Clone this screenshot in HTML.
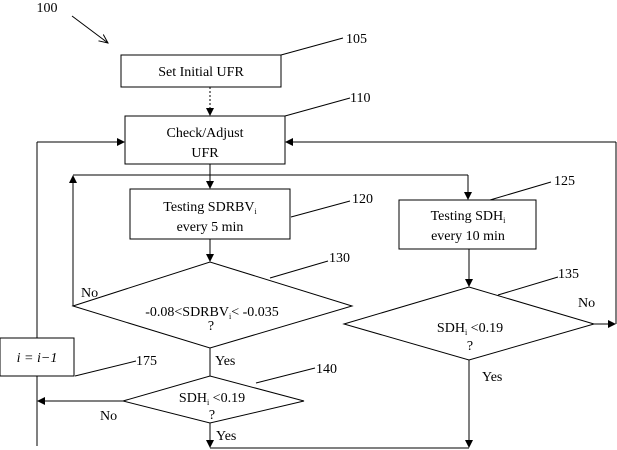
<!DOCTYPE html>
<html><head><style>body{margin:0;background:#fff}svg{display:block}text{font-family:"Liberation Serif",serif;font-size:14px;fill:#000}</style></head><body>
<svg width="617" height="450" viewBox="0 0 617 450" xmlns="http://www.w3.org/2000/svg">
<defs><marker id="a" markerWidth="8" markerHeight="8" refX="7" refY="4" orient="auto" markerUnits="userSpaceOnUse"><path d="M0,0 L8,4 L0,8 z" fill="#000"/></marker>
<marker id="o" markerWidth="10" markerHeight="10" refX="9" refY="5" orient="auto" markerUnits="userSpaceOnUse"><path d="M0,1 L9,5 L0,9" fill="none" stroke="#000"/></marker></defs>
<g stroke="#000" stroke-width="1" fill="none">
<line x1="72" y1="16" x2="108" y2="43" marker-end="url(#o)"/>
<rect x="121" y="55" width="160" height="32"/>
<line x1="210" y1="87" x2="210" y2="115" stroke-dasharray="2,2" marker-end="url(#a)"/>
<rect x="125" y="116" width="160" height="48"/>
<line x1="210" y1="164" x2="210" y2="188" marker-end="url(#a)"/>
<rect x="130" y="189" width="160" height="50"/>
<line x1="73" y1="175" x2="468" y2="175"/>
<line x1="468" y1="175" x2="468" y2="199" marker-end="url(#a)"/>
<line x1="73" y1="306" x2="73" y2="176" marker-end="url(#a)"/>
<rect x="399" y="200" width="137" height="49"/>
<line x1="210" y1="239" x2="210" y2="261" marker-end="url(#a)"/>
<polygon points="73,306 210,262 352,306 210,348"/>
<line x1="469" y1="249" x2="469" y2="286" marker-end="url(#a)"/>
<polygon points="344,324 469,287 594,324 469,360"/>
<line x1="594" y1="324" x2="615" y2="324" marker-end="url(#a)"/>
<line x1="616" y1="142" x2="616" y2="324"/>
<line x1="616" y1="142" x2="286" y2="142" marker-end="url(#a)"/>
<line x1="37" y1="142" x2="124" y2="142" marker-end="url(#a)"/>
<line x1="37" y1="142" x2="37" y2="338"/>
<rect x="0" y="338" width="74" height="38"/>
<line x1="37" y1="376" x2="37" y2="446"/>
<line x1="210" y1="348" x2="210" y2="376"/>
<polygon points="123,401 210,376 304,401 210,423"/>
<line x1="123" y1="401" x2="38" y2="401" marker-end="url(#a)"/>
<line x1="210" y1="423" x2="210" y2="447" marker-end="url(#a)"/>
<line x1="210" y1="448" x2="469" y2="448"/>
<line x1="469" y1="360" x2="469" y2="447" marker-end="url(#a)"/>
<line x1="281" y1="55" x2="343" y2="38"/>
<line x1="285" y1="116" x2="350" y2="98"/>
<line x1="291" y1="217" x2="350" y2="201"/>
<line x1="490" y1="200" x2="551" y2="182"/>
<line x1="270" y1="278" x2="328" y2="261"/>
<line x1="498" y1="295" x2="558" y2="277"/>
<line x1="75" y1="376" x2="136" y2="361"/>
<line x1="256" y1="383" x2="315" y2="368"/>
</g>
<text x="47" y="12" text-anchor="middle">100</text>
<text x="346" y="43">105</text>
<text x="350" y="102">110</text>
<text x="352" y="203">120</text>
<text x="554" y="185">125</text>
<text x="329" y="262">130</text>
<text x="558" y="278">135</text>
<text x="136" y="365">175</text>
<text x="316" y="373">140</text>
<text x="201" y="76" text-anchor="middle">Set Initial UFR</text>
<text x="205" y="137" text-anchor="middle">Check/Adjust</text>
<text x="205" y="157" text-anchor="middle">UFR</text>
<text x="210" y="211" text-anchor="middle">Testing SDRBV<tspan font-size="8" dy="3">i</tspan></text>
<text x="210" y="231" text-anchor="middle">every 5 min</text>
<text x="468" y="220" text-anchor="middle">Testing SDH<tspan font-size="8" dy="3">i</tspan></text>
<text x="468" y="240" text-anchor="middle">every 10 min</text>
<text x="212" y="316" text-anchor="middle">-0.08&lt;SDRBV<tspan font-size="8" dy="3">i</tspan><tspan dy="-3">&lt; -0.035</tspan></text>
<text x="211" y="330" text-anchor="middle">?</text>
<text x="470" y="332" text-anchor="middle">SDH<tspan font-size="8" dy="3">i</tspan><tspan dy="-3"> &lt;0.19</tspan></text>
<text x="470" y="350" text-anchor="middle">?</text>
<text x="212" y="402" text-anchor="middle">SDH<tspan font-size="8" dy="3">i</tspan><tspan dy="-3"> &lt;0.19</tspan></text>
<text x="212" y="419" text-anchor="middle">?</text>
<text x="37" y="362" text-anchor="middle" font-style="italic">i = i−1</text>
<text x="81" y="297">No</text>
<text x="578" y="307">No</text>
<text x="100" y="420">No</text>
<text x="215" y="365">Yes</text>
<text x="482" y="381">Yes</text>
<text x="216" y="440">Yes</text>
</svg>
</body></html>
